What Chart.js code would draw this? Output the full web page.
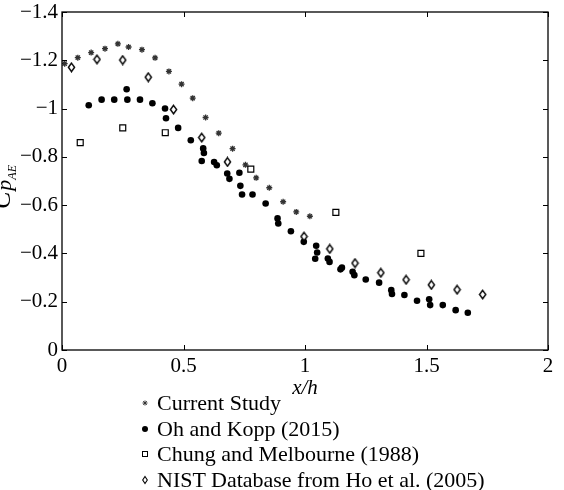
<!DOCTYPE html>
<html lang="en">
<head>
    <meta charset="UTF-8">
    <title>Cp_AE vs x/h</title>
    <script src="https://cdn.jsdelivr.net/npm/chart.js"></script>
    <style>
        body { margin: 0; background: #fff; }
        .wrap { position: relative; width: 564px; height: 490px; }
        .legend {
            position: absolute; left: 139px; top: 390px;
            font-family: "Liberation Serif", "Times New Roman", serif;
            font-size: 22px; line-height: 25.7px; color: #000;
        }
        .legend div { display: flex; align-items: center; white-space: nowrap; height: 25.7px; }
        .legend svg { width: 12px; height: 12px; margin-right: 6px; }
    </style>
</head>
<body>
<div class="wrap">
    <canvas id="chart" width="564" height="490"></canvas>
    <div class="legend">
        <div><svg viewBox="0 0 12 12"><g stroke="#333" stroke-width="1"><line x1="3.5" y1="6" x2="8.5" y2="6"/><line x1="6" y1="3.5" x2="6" y2="8.5"/><line x1="4.2" y1="4.2" x2="7.8" y2="7.8"/><line x1="4.2" y1="7.8" x2="7.8" y2="4.2"/></g></svg>Current Study</div>
        <div><svg viewBox="0 0 12 12"><circle cx="6" cy="6" r="3" fill="#000"/></svg>Oh and Kopp (2015)</div>
        <div><svg viewBox="0 0 12 12"><rect x="3.5" y="3.5" width="5" height="5" fill="none" stroke="#000" stroke-width="1"/></svg>Chung and Melbourne (1988)</div>
        <div><svg viewBox="0 0 12 12"><polygon points="6,2.5 8.3,6 6,9.5 3.7,6" fill="none" stroke="#000" stroke-width="1.1"/></svg>NIST Database from Ho et al. (2005)</div>
    </div>
</div>

<script>
    // Data
    const currentX = [0.011, 0.065, 0.12, 0.177, 0.23, 0.274, 0.329, 0.383, 0.44, 0.492, 0.538, 0.591, 0.645, 0.702, 0.755, 0.799, 0.853, 0.91, 0.964, 1.02];
    const currentY = [-1.186, -1.211, -1.232, -1.248, -1.268, -1.255, -1.244, -1.21, -1.154, -1.101, -1.043, -0.963, -0.898, -0.834, -0.767, -0.713, -0.672, -0.614, -0.572, -0.554];

    const ohKoppX = [0.11, 0.163, 0.215, 0.266, 0.269, 0.321, 0.372, 0.424, 0.428, 0.478, 0.53, 0.581, 0.584, 0.575, 0.626, 0.637, 0.68, 0.689, 0.73, 0.734, 0.741, 0.784, 0.838, 0.887, 0.89, 0.942, 0.995, 1.046, 1.05, 1.042, 1.094, 1.101, 1.146, 1.152, 1.196, 1.203, 1.25, 1.305, 1.355, 1.358, 1.409, 1.461, 1.511, 1.515, 1.567, 1.62, 1.67];
    const ohKoppY = [-1.014, -1.037, -1.037, -1.08, -1.037, -1.037, -1.022, -1.0, -0.96, -0.92, -0.869, -0.835, -0.816, -0.783, -0.779, -0.765, -0.731, -0.709, -0.734, -0.68, -0.644, -0.644, -0.607, -0.545, -0.524, -0.492, -0.448, -0.432, -0.404, -0.378, -0.379, -0.365, -0.334, -0.341, -0.324, -0.31, -0.292, -0.279, -0.248, -0.232, -0.228, -0.204, -0.21, -0.186, -0.186, -0.165, -0.154];

    const chungX = [0.075, 0.25, 0.425, 0.777, 1.127, 1.477];
    const chungY = [-0.859, -0.92, -0.90, -0.749, -0.57, -0.40];

    const nistX = [0.039, 0.144, 0.25, 0.355, 0.459, 0.575, 0.681, 0.996, 1.102, 1.206, 1.312, 1.416, 1.52, 1.626, 1.731];
    const nistY = [-1.171, -1.204, -1.201, -1.13, -0.996, -0.88, -0.779, -0.47, -0.419, -0.36, -0.32, -0.291, -0.27, -0.25, -0.23];

    const xTicks = [0, 0.5, 1, 1.5, 2];
    const yTicks = [-1.4, -1.2, -1, -0.8, -0.6, -0.4, -0.2, 0];

    const serif = '"Liberation Serif", "Times New Roman", serif';
    const pts = (xs, ys) => xs.map((x, i) => ({ x: x, y: ys[i] }));

    // tall open diamond marker
    const diamond = document.createElement('canvas');
    diamond.width = 9; diamond.height = 11;
    (() => {
        const c = diamond.getContext('2d');
        c.strokeStyle = '#000';
        c.lineWidth = 1.4;
        c.fillStyle = '#fff';
        c.beginPath();
        c.moveTo(4.5, 1.3); c.lineTo(7.6, 5.5); c.lineTo(4.5, 9.7); c.lineTo(1.4, 5.5);
        c.closePath();
        c.fill(); c.stroke();
    })();

    const fmt = v => {
        const r = Math.round(v * 10) / 10;
        if (r === 0) return '0';
        return (r < 0 ? '\u2212' : '') + String(Math.abs(r));
    };

    // frame, inward ticks, axis titles
    const framePlugin = {
        id: 'frame',
        afterDraw(chart) {
            const { ctx, chartArea: a, scales } = chart;
            ctx.save();
            ctx.strokeStyle = '#000';
            ctx.lineWidth = 1.3;
            ctx.strokeRect(a.left, a.top, a.right - a.left, a.bottom - a.top);
            ctx.lineWidth = 1;
            ctx.beginPath();
            yTicks.forEach(v => {
                const y = Math.round(scales.y.getPixelForValue(v)) + 0.5;
                ctx.moveTo(a.left, y); ctx.lineTo(a.left + 5, y);
                ctx.moveTo(a.right, y); ctx.lineTo(a.right - 5, y);
            });
            xTicks.forEach(v => {
                const x = Math.round(scales.x.getPixelForValue(v)) + 0.5;
                ctx.moveTo(x, a.bottom); ctx.lineTo(x, a.bottom - 5);
                ctx.moveTo(x, a.top); ctx.lineTo(x, a.top + 5);
            });
            ctx.stroke();

            ctx.fillStyle = '#000';
            ctx.textAlign = 'center';
            ctx.textBaseline = 'alphabetic';
            ctx.font = 'italic 21px ' + serif;
            ctx.fillText('x/h', (a.left + a.right) / 2, 394);

            // y title C_{p_{AE}}
            ctx.translate(10, 209);
            ctx.rotate(-Math.PI / 2);
            ctx.textAlign = 'left';
            ctx.font = 'italic 26px ' + serif;
            ctx.fillText('C', 0, 0);
            const w1 = ctx.measureText('C').width;
            ctx.font = 'italic 22px ' + serif;
            ctx.fillText('p', w1 + 1, 1);
            const w2 = ctx.measureText('p').width;
            ctx.font = 'italic 12px ' + serif;
            ctx.fillText('AE', w1 + w2 + 1, 6);
            ctx.restore();
        }
    };

    new Chart(document.getElementById('chart'), {
        type: 'scatter',
        data: {
            datasets: [
                {
                    label: 'NIST Database from Ho et al. (2005)',
                    data: pts(nistX, nistY),
                    pointStyle: diamond
                },
                {
                    label: 'Chung and Melbourne (1988)',
                    data: pts(chungX, chungY),
                    pointStyle: 'rect',
                    radius: 4.2,
                    backgroundColor: '#fff',
                    borderColor: '#000',
                    borderWidth: 1.2
                },
                {
                    label: 'Oh and Kopp (2015)',
                    data: pts(ohKoppX, ohKoppY),
                    pointStyle: 'circle',
                    radius: 3.3,
                    backgroundColor: '#000',
                    borderWidth: 0
                },
                {
                    label: 'Current Study',
                    data: pts(currentX, currentY),
                    pointStyle: 'star',
                    radius: 3,
                    borderColor: '#333',
                    borderWidth: 1.3
                }
            ]
        },
        options: {
            responsive: false,
            animation: false,
            layout: { padding: { top: 12, right: 16, left: 0, bottom: 0 } },
            plugins: {
                legend: { display: false },
                tooltip: { enabled: false }
            },
            scales: {
                x: {
                    type: 'linear',
                    min: 0, max: 2,
                    afterBuildTicks: s => { s.ticks = xTicks.map(v => ({ value: v })); },
                    afterFit: s => { s.height = 140; s.paddingLeft = 0; s.paddingRight = 0; },
                    grid: { display: false, drawTicks: false },
                    border: { display: false },
                    ticks: {
                        padding: 4,
                        color: '#000',
                        font: { family: serif, size: 21 },
                        callback: v => fmt(v)
                    }
                },
                y: {
                    type: 'linear',
                    min: -1.4, max: 0,
                    reverse: true,
                    afterBuildTicks: s => { s.ticks = yTicks.map(v => ({ value: v })); },
                    afterFit: s => { s.width = 62; s.paddingTop = 0; s.paddingBottom = 0; },
                    grid: { display: false, drawTicks: false },
                    border: { display: false },
                    ticks: {
                        padding: 4,
                        color: '#000',
                        font: { family: serif, size: 21 },
                        callback: v => fmt(v)
                    }
                }
            }
        },
        plugins: [framePlugin]
    });
</script>
</body>
</html>
